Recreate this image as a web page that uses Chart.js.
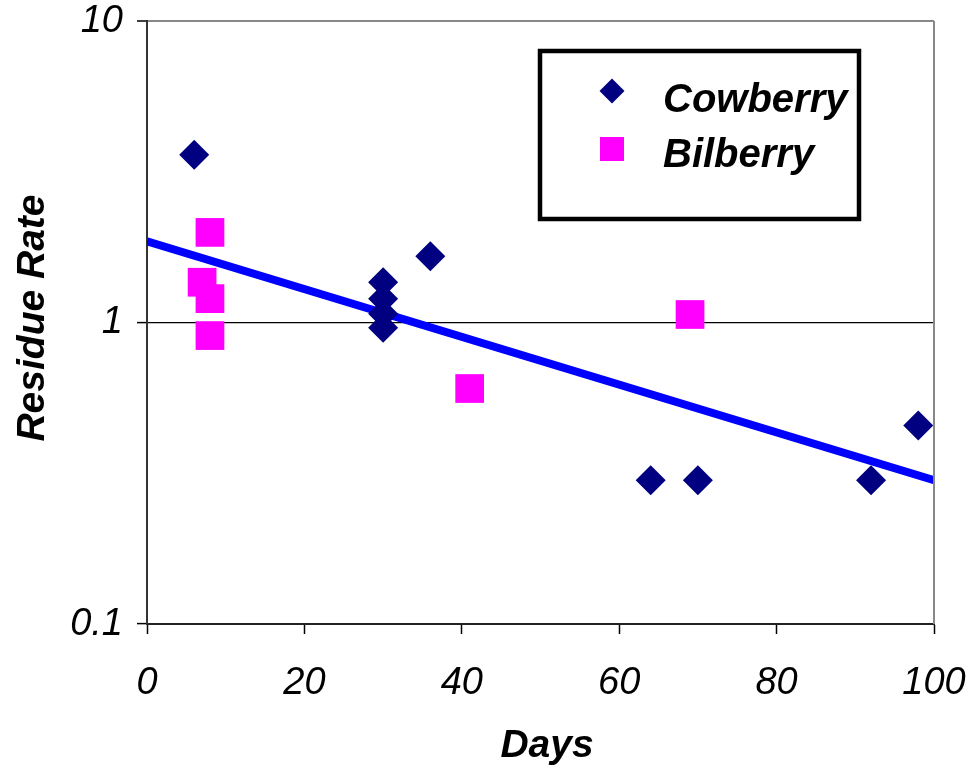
<!DOCTYPE html>
<html><head><meta charset="utf-8">
<script src="https://cdn.jsdelivr.net/npm/chart.js@4.4.0/dist/chart.umd.min.js"></script>
<style>html,body{margin:0;padding:0;background:#fff}</style>
</head><body>
<canvas id="c" width="977" height="771"></canvas>
<script>
const seriesNames = ['Cowberry', 'Bilberry', 'Trend'];
const cowberryDays = [6, 30, 30, 30, 30, 36, 64, 70, 92, 98];
const cowberryRates = [3.6, 1.36, 1.20, 1.07, 0.96, 1.66, 0.30, 0.30, 0.30, 0.455];
const bilberryDays = [8, 7, 8, 8, 41, 69];
const bilberryRates = [1.99, 1.36, 1.20, 0.905, 0.604, 1.063];
const trendDays = [0, 100];
const trendRates = [1.86, 0.30];
const xTicks = [0, 20, 40, 60, 80, 100];
const yTicks = [0.1, 1, 10];
const xTitle = 'Days';
const yTitle = 'Residue Rate';

const FONT = '"Liberation Sans", Arial, sans-serif';
const pts = (xs, ys) => xs.map((x, i) => ({x: x, y: ys[i]}));

const frameAndLegend = {
  id: 'frameAndLegend',
  afterDatasetsDraw(chart) {
    const ctx = chart.ctx, a = chart.chartArea;
    ctx.save();
    // right border of plot area
    ctx.strokeStyle = '#888';
    ctx.lineWidth = 2;
    ctx.beginPath();
    ctx.moveTo(a.right, a.top);
    ctx.lineTo(a.right, a.bottom);
    ctx.stroke();
    // axis titles
    ctx.fillStyle = '#000';
    ctx.font = 'italic bold 39px ' + FONT;
    ctx.textAlign = 'center';
    ctx.textBaseline = 'alphabetic';
    ctx.fillText(xTitle, 547, 757);
    ctx.save();
    ctx.translate(33, 318);
    ctx.rotate(-Math.PI / 2);
    ctx.textBaseline = 'middle';
    ctx.fillText(yTitle, 0, 0);
    ctx.restore();
    // legend box
    ctx.fillStyle = '#fff';
    ctx.fillRect(538, 49, 323, 172);
    ctx.strokeStyle = '#000';
    ctx.lineWidth = 4.5;
    ctx.strokeRect(540, 51, 319, 168);
    const ds = chart.data.datasets;
    // Cowberry marker (diamond)
    ctx.fillStyle = ds[0].backgroundColor;
    ctx.beginPath();
    ctx.moveTo(612, 78.5); ctx.lineTo(624.5, 91); ctx.lineTo(612, 103.5); ctx.lineTo(599.5, 91);
    ctx.closePath(); ctx.fill();
    // Bilberry marker (square)
    ctx.fillStyle = ds[1].backgroundColor;
    ctx.fillRect(600, 137, 24, 24);
    ctx.fillStyle = '#000';
    ctx.font = 'italic bold 40px ' + FONT;
    ctx.textAlign = 'left';
    ctx.textBaseline = 'alphabetic';
    ctx.fillText(ds[0].label, 663, 112);
    ctx.fillText(ds[1].label, 663, 167);
    ctx.restore();
  }
};

new Chart(document.getElementById('c'), {
  type: 'scatter',
  data: {
    datasets: [
      {
        label: seriesNames[0],
        data: pts(cowberryDays, cowberryRates),
        pointStyle: 'rectRot',
        pointRadius: 15,
        pointHoverRadius: 15,
        backgroundColor: '#000080',
        borderColor: '#000080',
        borderWidth: 0
      },
      {
        label: seriesNames[1],
        data: pts(bilberryDays, bilberryRates),
        pointStyle: 'rect',
        pointRadius: 20.3,
        pointHoverRadius: 20.3,
        backgroundColor: '#FF00FF',
        borderColor: '#FF00FF',
        borderWidth: 0
      },
      {
        label: seriesNames[2],
        data: pts(trendDays, trendRates),
        showLine: true,
        borderColor: '#0000FF',
        backgroundColor: '#0000FF',
        borderWidth: 8,
        borderCapStyle: 'butt',
        pointRadius: 0,
        pointHoverRadius: 0
      }
    ]
  },
  options: {
    responsive: false,
    devicePixelRatio: 1,
    animation: false,
    layout: {padding: {left: 0, right: 43, top: 21, bottom: 0}},
    plugins: {legend: {display: false}, tooltip: {enabled: false}},
    scales: {
      x: {
        type: 'linear',
        position: 'bottom',
        min: 0, max: 100,
        afterBuildTicks: s => { s.ticks = xTicks.map(v => ({value: v})); },
        afterFit: s => { s.height = 147; s.paddingLeft = 0; s.paddingRight = 0; },
        grid: {drawOnChartArea: false, drawTicks: true, tickLength: 10, tickColor: '#000', tickWidth: 1.5},
        border: {display: true, color: '#222', width: 2},
        ticks: {color: '#000', padding: 27, maxRotation: 0, font: {family: FONT, size: 38, style: 'italic'}},
        title: {display: false}
      },
      y: {
        type: 'logarithmic',
        position: 'left',
        min: 0.1, max: 10,
        afterBuildTicks: s => { s.ticks = yTicks.map(v => ({value: v})); },
        afterFit: s => { s.width = 147; s.paddingTop = 0; s.paddingBottom = 0; },
        grid: {
          drawTicks: true, tickLength: 10, tickColor: '#000', tickWidth: 1.5,
          color: c => (c.tick && c.tick.value === 1) ? '#000' : (c.tick && c.tick.value === 10 ? '#888' : 'rgba(0,0,0,0)'),
          lineWidth: c => (c.tick && c.tick.value === 10) ? 2 : 1.2
        },
        border: {display: true, color: '#333', width: 2},
        ticks: {color: '#000', padding: 14, font: {family: FONT, size: 38, style: 'italic'},
                callback: v => String(v)},
        title: {display: false}
      }
    }
  },
  plugins: [frameAndLegend]
});
</script>
</body></html>
